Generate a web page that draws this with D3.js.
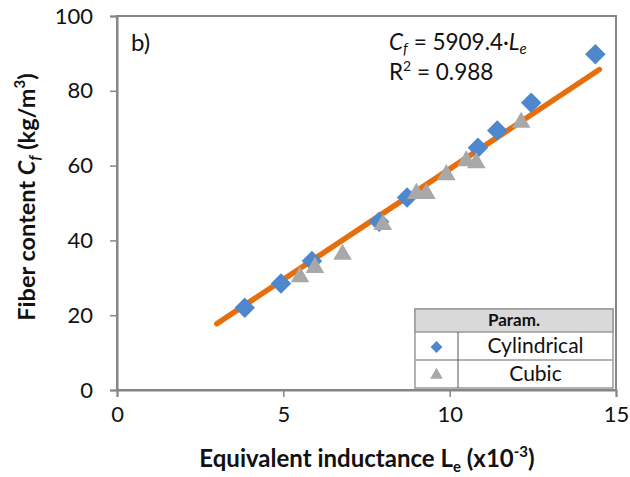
<!DOCTYPE html>
<html><head><meta charset="utf-8">
<script src="https://cdn.jsdelivr.net/npm/d3@7"></script>
<style>body{margin:0;background:#fff}svg{display:block}text{font-family:Lato,"Open Sans",sans-serif}</style>
</head><body>
<script>
const cylX = [3.84, 4.93, 5.86, 7.88, 8.72, 10.85, 11.43, 12.45, 14.38];
const cylY = [22.0, 28.5, 34.5, 45.0, 51.5, 64.8, 69.4, 76.8, 89.8];
const cubX = [5.5, 5.95, 6.78, 7.99, 9.0, 9.3, 9.9, 10.5, 10.8, 12.15];
const cubY = [30.5, 33.0, 36.5, 44.5, 52.8, 52.8, 57.8, 61.5, 61.0, 71.8];
const slope = 5909.4;
const fitRange = [3.0, 14.5];
const xTicks = [0, 5, 10, 15];
const yTicks = [0, 20, 40, 60, 80, 100];

const W = 630, H = 477;
const m = {l:117, r:616, t:16, b:390};
const svg = d3.select("body").append("svg").attr("width", W).attr("height", H);
const x = d3.scaleLinear().domain([0,15]).range([m.l, m.r]);
const y = d3.scaleLinear().domain([0,100]).range([m.b, m.t]);
const axisCol = "#868686";

svg.append("rect").attr("x", m.l).attr("y", m.t).attr("width", m.r-m.l).attr("height", m.b-m.t)
  .attr("fill","none").attr("stroke", axisCol).attr("stroke-width", 2);

const xa = svg.append("g").attr("transform", `translate(0,${m.b})`)
  .call(d3.axisBottom(x).tickValues(xTicks).tickSize(7).tickPadding(9).tickFormat(d3.format("d")));
const ya = svg.append("g").attr("transform", `translate(${m.l},0)`)
  .call(d3.axisLeft(y).tickValues(yTicks).tickSize(7).tickPadding(17).tickFormat(d3.format("d")));
[xa, ya].forEach(a => {
  a.select(".domain").attr("stroke", axisCol).attr("stroke-width", 2);
  a.selectAll(".tick line").attr("stroke", axisCol).attr("stroke-width", 1.5);
  a.selectAll(".tick text").attr("font-size", 22).attr("fill", "#111").attr("font-family", "Lato, sans-serif");
});

svg.append("line").attr("x1", x(fitRange[0])).attr("y1", y(slope*fitRange[0]/1000))
  .attr("x2", x(fitRange[1])).attr("y2", y(slope*fitRange[1]/1000))
  .attr("stroke", "#E66E0C").attr("stroke-width", 5.5).attr("stroke-linecap", "round");

const diamond = d3.symbol().type(d3.symbolSquare).size(210)();
const tri = d3.symbol().type(d3.symbolTriangle).size(150)();

svg.append("g").selectAll("path").data(cylX.map((v,i)=>[v,cylY[i]])).join("path")
  .attr("d", diamond).attr("fill", "#4F87CC")
  .attr("transform", d => `translate(${x(d[0])},${y(d[1])}) rotate(45)`);
svg.append("g").selectAll("path").data(cubX.map((v,i)=>[v,cubY[i]])).join("path")
  .attr("d", tri).attr("fill", "#A8A8A8")
  .attr("transform", d => `translate(${x(d[0])},${y(d[1])+1})`);

svg.append("text").attr("x", 131).attr("y", 51).attr("font-size", 24).attr("fill","#111").text("b)");
const eq = svg.append("text").attr("x", 389).attr("y", 50).attr("font-size", 22.5).attr("fill","#111");
eq.append("tspan").attr("font-style","italic").text("C");
eq.append("tspan").attr("font-style","italic").attr("font-size",15).attr("dy",4).text("f");
eq.append("tspan").attr("dy",-4).text(" = 5909.4·");
eq.append("tspan").attr("font-style","italic").text("L");
eq.append("tspan").attr("font-style","italic").attr("font-size",15).attr("dy",4).text("e");
const r2 = svg.append("text").attr("x", 389).attr("y", 80).attr("font-size", 22.5).attr("fill","#111");
r2.append("tspan").text("R");
r2.append("tspan").attr("font-size",14).attr("dy",-9).text("2");
r2.append("tspan").attr("dy",9).text(" = 0.988");

const xt = svg.append("text").attr("x", 367).attr("y", 467).attr("text-anchor","middle")
  .attr("font-size", 24).attr("font-weight","bold").attr("fill","#111");
xt.append("tspan").text("Equivalent inductance L");
xt.append("tspan").attr("font-size",15).attr("dy",5).text("e");
xt.append("tspan").attr("dy",-5).text(" (x10");
xt.append("tspan").attr("font-size",15).attr("dy",-10).text("-3");
xt.append("tspan").attr("dy",10).text(")");

const yt = svg.append("text").attr("transform","translate(35,197) rotate(-90)").attr("text-anchor","middle")
  .attr("font-size", 23.5).attr("font-weight","bold").attr("fill","#111");
yt.append("tspan").text("Fiber content ");
yt.append("tspan").attr("font-style","italic").text("C");
yt.append("tspan").attr("font-style","italic").attr("font-size",15).attr("dy",5).text("f");
yt.append("tspan").attr("dy",-5).text(" (kg/m");
yt.append("tspan").attr("font-size",15).attr("dy",-10).text("3");
yt.append("tspan").attr("dy",10).text(")");

const L = {x:415, y:309, w:198, hh:23, rh:28, cx:458};
const lg = svg.append("g");
lg.append("rect").attr("x",L.x).attr("y",L.y).attr("width",L.w).attr("height",L.hh+2*L.rh)
  .attr("fill","#fff").attr("stroke","#9a9a9a").attr("stroke-width",1.5);
lg.append("rect").attr("x",L.x).attr("y",L.y).attr("width",L.w).attr("height",L.hh)
  .attr("fill","#d9d9d9").attr("stroke","#9a9a9a").attr("stroke-width",1.5);
lg.append("line").attr("x1",L.x).attr("x2",L.x+L.w).attr("y1",L.y+L.hh+L.rh).attr("y2",L.y+L.hh+L.rh)
  .attr("stroke","#9a9a9a").attr("stroke-width",1.5);
lg.append("line").attr("x1",L.cx).attr("x2",L.cx).attr("y1",L.y+L.hh).attr("y2",L.y+L.hh+2*L.rh)
  .attr("stroke","#555").attr("stroke-width",1);
lg.append("text").attr("x",L.x+L.w/2).attr("y",L.y+17).attr("text-anchor","middle")
  .attr("font-size",17).attr("font-weight","bold").attr("fill","#111").text("Param.");
const names = ["Cylindrical","Cubic"];
names.forEach((n,i) => {
  const cy = L.y+L.hh+L.rh*i+L.rh/2;
  lg.append("text").attr("x",(L.cx+L.x+L.w)/2).attr("y",cy+7).attr("text-anchor","middle")
    .attr("font-size",21).attr("fill","#111").text(n);
  lg.append("path").attr("d", i===0 ? d3.symbol().type(d3.symbolSquare).size(70)() : d3.symbol().type(d3.symbolTriangle).size(70)())
    .attr("fill", i===0 ? "#4F87CC" : "#A8A8A8")
    .attr("transform", `translate(${(L.x+L.cx)/2},${cy+1}) rotate(${i===0?45:0})`);
});
</script>
</body></html>
